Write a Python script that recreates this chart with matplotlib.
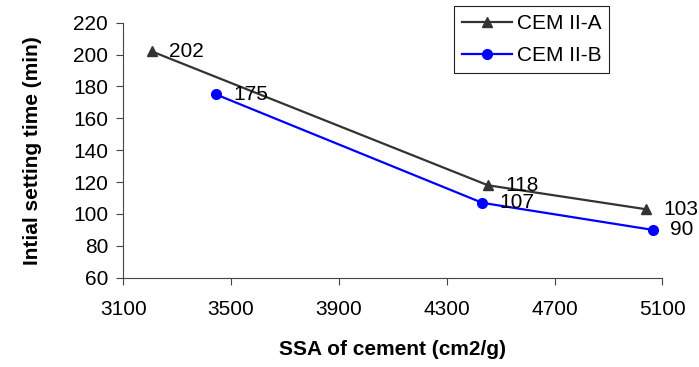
import matplotlib.pyplot as plt

plt.rcParams['font.family'] = ['Liberation Sans', 'DejaVu Sans']

# Initial setting time vs specific surface area
ssa_a = [3206, 4453, 5038]
time_a = [202, 118, 103]
ssa_b = [3444, 4432, 5065]
time_b = [175, 107, 90]

x_ticks = [3100, 3500, 3900, 4300, 4700, 5100]
y_ticks = [60, 80, 100, 120, 140, 160, 180, 200, 220]

fs = 15

fig = plt.figure(figsize=(6.99, 3.67), dpi=100)
ax = fig.add_axes([0.1764, 0.2433, 0.7711, 0.6947])

ax.plot(ssa_a, time_a, color='#333333', lw=1.6, marker='^', ms=7, label='CEM II-A')
ax.plot(ssa_b, time_b, color='#0000FF', lw=1.6, marker='o', ms=7, label='CEM II-B')

for x, y in zip(ssa_a, time_a):
    ax.annotate(str(y), (x, y), xytext=(12.5, 0), textcoords='offset points',
                ha='left', va='center', fontsize=fs)
for x, y in zip(ssa_b, time_b):
    ax.annotate(str(y), (x, y), xytext=(12.5, 0), textcoords='offset points',
                ha='left', va='center', fontsize=fs)

ax.set_xlim(3100, 5100)
ax.set_ylim(60, 220)
ax.set_xticks(x_ticks)
ax.set_yticks(y_ticks)
ax.tick_params(labelsize=fs, direction='out', length=5, width=0.8, color='#444444')
ax.tick_params(axis='x', pad=11)
ax.tick_params(axis='y', pad=6)
for side in ['top', 'right']:
    ax.spines[side].set_visible(False)
for side in ['left', 'bottom']:
    ax.spines[side].set_color('#444444')
    ax.spines[side].set_linewidth(0.8)

ax.set_xlabel('SSA of cement (cm2/g)', fontsize=15, fontweight='bold', labelpad=15)
ax.set_ylabel('Intial setting time (min)', fontsize=15, fontweight='bold', labelpad=22)

leg = fig.legend(loc='upper left', bbox_to_anchor=(0.6495, 0.9837), borderaxespad=0,
                 fontsize=fs, frameon=True, fancybox=False, edgecolor='#222222',
                 framealpha=1, handlelength=2.4, handletextpad=0.2, borderpad=0.4,
                 labelspacing=0.6)
leg.get_frame().set_linewidth(0.8)

fig.savefig('out.png', dpi=100)
